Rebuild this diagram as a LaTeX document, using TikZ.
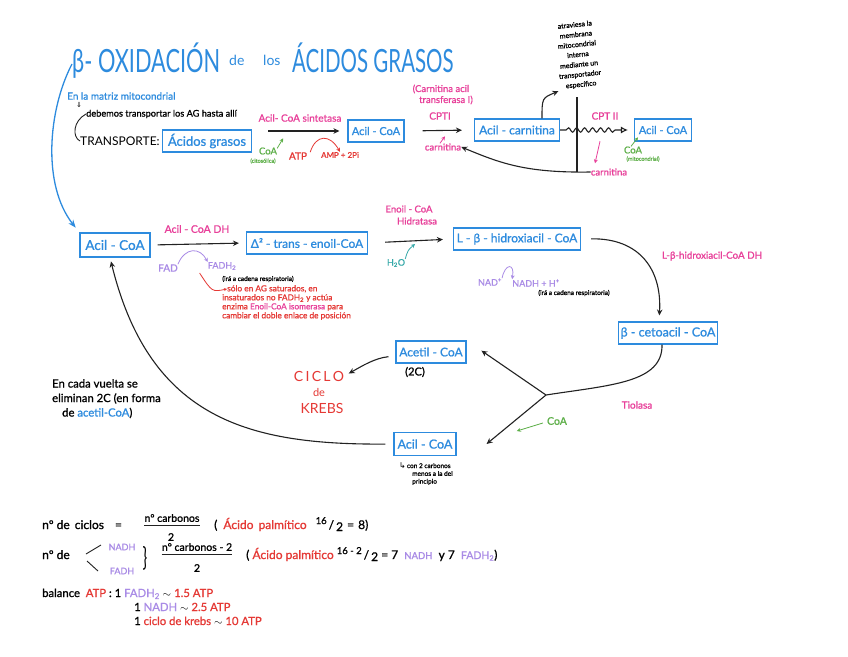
\documentclass[tikz,border=0pt]{standalone}
\usepackage{fontspec}
\setmainfont{Lato}[FakeBold=1.0]
\newfontfamily\titlef{Lato}
\newfontfamily\symf{DejaVu Sans}
\usetikzlibrary{arrows.meta,decorations.pathmorphing,calc}
\definecolor{bl}{HTML}{2D8BDE}
\definecolor{pk}{HTML}{E8409A}
\definecolor{rd}{HTML}{E53935}
\definecolor{gr}{HTML}{5DAF48}
\definecolor{pu}{HTML}{A98BE6}
\definecolor{tl}{HTML}{35A8A8}
\definecolor{ink}{HTML}{222222}
\newcommand\fz[2]{\fontsize{#1pt}{#2pt}\selectfont}
\begin{document}
\begin{tikzpicture}[x=1pt,y=-1pt,
  box/.style={draw=bl,line width=1.1pt,text=bl,inner sep=2pt,minimum height=22pt,font=\fz{12}{13}},
  arr/.style={-{Stealth[length=6pt,width=5.5pt]},line width=1.1pt,draw=ink},
  sarr/.style={-{Stealth[length=4pt,width=4pt]},line width=0.8pt},
  t/.style={inner sep=0pt},
]
\useasboundingbox[fill=white] (0,0) rectangle (848,656);

% title
\node[t,anchor=base west,text=bl,font=\titlef\fz{32}{36}] (tA) at (72,72) {\scalebox{0.68}[1]{β- OXIDACIÓN}};
\node[t,anchor=base west,text=bl,font=\titlef\fz{14}{16}] (tB) at (229,65) {de};
\node[t,anchor=base west,text=bl,font=\titlef\fz{14}{16}] (tC) at (263,65) {los};
\node[t,anchor=base west,text=bl,font=\titlef\fz{32}{36}] (tD) at (292,72) {\scalebox{0.64}[1]{ÁCIDOS GRASOS}};

% transport row
\node[t,anchor=west,text=bl,font=\fz{10}{11}] (matriz) at (67,96) {En la matriz mitocondrial};
\node[t,font=\symf\fz{7}{8}] (dn) at (79,105) {⇓};
\node[t,anchor=west,font=\fz{9.2}{10}] (debemos) at (86,114) {debemos transportar los AG hasta allí};
\node[t,anchor=west,font=\titlef\fz{12}{14}] (transp) at (80,141) {TRANSPORTE:};
\draw[ink,line width=0.9pt] (debemos.west) .. controls (73,121) and (72,137) .. (transp.west);

\node[box,minimum width=89pt,font=\fz{13}{14}] (acg) at (207,141) {Ácidos grasos};
\node[box,minimum width=56pt,font=\fz{11}{12}] (ac1) at (376,131) {Acil - CoA};
\node[box,minimum width=85pt] (acar) at (517,130) {Acil - carnitina};
\node[box,minimum width=57pt,font=\fz{11}{12}] (ac2) at (663,130) {Acil - CoA};

\draw[arr,shorten <=16pt,shorten >=8pt] (acg.east |- ac1.west) -- (ac1.west);
\node[t,text=pk,font=\fz{10}{11}] (sint) at (300,118) {Acil- CoA sintetasa};
\node[t,text=gr,font=\fz{9.5}{10}] (coa1) at (268,151) {CoA};
\node[t,text=gr,font=\fz{5.5}{6}] (cit) at (263,161) {(citosólica)};
\draw[gr,sarr] ($(coa1.north east)+(0,1)$) -- ($(coa1.north east)+(6,-9)$);
\node[t,text=rd,font=\fz{10}{11}] (atp) at (298,156) {ATP};
\node[t,text=rd,font=\fz{8}{9}] (amp) at (340,155) {AMP + 2Pi};
\draw[rd,sarr] ($(atp.north east)+(3,0)$) .. controls (316,134) and (330,134) .. (amp.north);

\node[t,text=pk,font=\fz{10}{11}] (cpt1) at (440,116) {CPTI};
\node[t,text=pk,font=\fz{9.5}{11}] (cpt1n) at (441,89) {(Carnitina acil};
\node[t,text=pk,font=\fz{9.5}{11}] (cpt1m) at (446,100) {transferasa I)};
\draw[arr,shorten <=18pt,shorten >=12pt] (ac1.east) -- (acar.west);
\node[t,text=pk,font=\fz{9.5}{10}] (carn1) at (443,147) {carnitina};
\draw[pk,sarr] ($(carn1.north)+(-3,0)$) -- ($(carn1.north)+(2,-7)$);

\node[t,font=\fz{7}{10},align=center,rotate=6] (atrav) at (578,55) {atraviesa la\\membrana\\mitocondrial\\interna\\mediante un\\transportador\\específico};
\draw[arr,shorten >=2pt] ([xshift=25pt]acar.north) .. controls (542,98) .. (atrav.south west);

\coordinate (m1) at (577,97);
\coordinate (m2) at (577,172);
\draw[ink,line width=1.1pt] (m1) -- (m2);
\draw[ink,line width=1.1pt,decorate,decoration={snake,amplitude=2.2pt,segment length=8pt,pre length=6pt,post length=12pt},-{Latex[open,length=7pt,width=7pt]}] (acar.east) -- ([xshift=-6pt]ac2.west);
\node[t,text=pk,font=\fz{10}{11}] (cpt2) at (605,116) {CPT II};
\node[t,text=pk,font=\fz{9.5}{10}] (carn2) at (609,172) {carnitina};
\draw[pk,sarr] ($(carn2.north)+(-9,-27)$) -- ($(carn2.north)+(-14,-5)$);
\node[t,text=gr,font=\fz{9.5}{10}] (coa2) at (633,150) {CoA};
\node[t,text=gr,font=\fz{5.5}{6}] (mit) at (643,159) {(mitocondrial)};
\draw[gr,sarr] ($(coa2.north)+(-2,0)$) -- ($(coa2.north)+(5,-9)$);
\draw[arr] (carn2.west) .. controls (525,173) and (500,163) .. (carn1.east);

% beta-oxidation cycle
\node[box,minimum width=70pt,minimum height=24pt,font=\fz{13.5}{14}] (ac3) at (115,245) {Acil - CoA};
\node[box,minimum width=121pt] (enoil) at (307,243) {Δ² - trans - enoil-CoA};
\node[box,minimum width=127pt] (hidrox) at (517,239) {L - β - hidroxiacil - CoA};
\node[box,minimum width=98pt,font=\fz{12.5}{13}] (ceto) at (668,333) {β - cetoacil - CoA};
\node[box,minimum width=70pt] (acet) at (431,352) {Acetil - CoA};
\node[box,minimum width=62pt,minimum height=23pt,font=\fz{12.5}{13}] (ac4) at (425,444) {Acil - CoA};

\coordinate (ts) at (72,64);
\draw[bl,line width=1.3pt,-{Stealth[length=8pt,width=6pt]},shorten >=6pt] (ts) .. controls (48,110) and (42,185) .. (ac3.north west);

\draw[arr,shorten <=7pt,shorten >=7pt] (ac3.east) -- (enoil.west);
\node[t,text=pk,font=\fz{10.5}{11}] (acdh) at (197,229) {Acil - CoA DH};
\node[t,text=pu,font=\fz{10}{11}] (fad) at (168,268) {FAD};
\node[t,text=pu,font=\fz{9}{10}] (fadh) at (222,266) {FADH\textsubscript{2}};
\draw[pu,sarr] (fad.north east) .. controls (185,247) and (200,247) .. (fadh.north west);
\node[t,font=\fz{6.5}{8}] (cad1) at (258,279) {(irá a cadena respiratoria)};
\node[t,text=rd,font=\fz{8.3}{9}, align=left,anchor=north west] (nota) at (222,285) {\hspace{5pt}sólo en AG saturados, en\\insaturados no FADH\textsubscript{2} y actúa\\enzima \textcolor{pk}{Enoil-CoA isomerasa} para\\cambiar el doble enlace de posición};
\draw[rd,line width=0.8pt,-{Stealth[length=3pt,width=3pt]}] ($(fadh.south west)+(-8,3)$) .. controls (212,292) .. ($(nota.north west)+(5,4)$);

\draw[arr,shorten <=17pt,shorten >=10pt] (enoil.east) -- (hidrox.west);
\node[t,text=pk,font=\fz{9.5}{12}] (hidrat) at (409,209) {Enoil - CoA};
\node[t,text=pk,font=\fz{9.5}{12}] (hidrat2) at (417,221) {Hidratasa};
\node[t,text=tl,font=\fz{9}{10}] (h2o) at (396,263) {H\textsubscript{2}O};
\draw[tl,sarr] (h2o.north east) .. controls (408,250) .. (415,244);

\draw[arr,shorten <=10pt,shorten >=6pt] (hidrox.east) .. controls (640,238) and (662,270) .. ([xshift=-9pt]ceto.north);
\node[t,text=pk,font=\fz{9.8}{10}] (lbdh) at (712,256) {L-β-hidroxiacil-CoA DH};
\node[t,text=pu,font=\fz{9}{10}] (nad) at (490,282) {NAD\textsuperscript{+}};
\node[t,text=pu,font=\fz{9}{10}] (nadh) at (536,283) {NADH + H\textsuperscript{+}};
\draw[pu,sarr] (nad.north east) .. controls (505,263) and (515,263) .. (nadh.north west);
\node[t,font=\fz{6.5}{8}] (cad2) at (574,293) {(irá a cadena respiratoria)};

\coordinate (J) at (546,395);
\draw[ink,line width=1.1pt] ([xshift=-6pt]ceto.south) .. controls (663,383) and (610,385) .. (J);
\draw[arr,shorten >=18pt] (J) -- (acet.north east);
\draw[arr] (J) -- ([xshift=30pt]ac4.east);
\node[t,text=pk,font=\fz{10}{11}] (tiol) at (637,405) {Tiolasa};
\node[t,text=gr,font=\fz{10.5}{11}] (coa3) at (557,421) {CoA};
\draw[gr,sarr] ($(coa3.west)+(-4,2)$) -- ($(coa3.west)+(-30,10)$);

\node[t,font=\fz{11}{12}] (twoc) at (415,372) {(2C)};
\node[t,text=rd,font=\titlef\fz{14}{16}] (ciclo) at (319,376) {C\,I\,C\,L\,O};
\node[t,text=rd,font=\titlef\fz{11}{12}] (de) at (319,392) {de};
\node[t,text=rd,font=\titlef\fz{14}{16}] (krebs) at (322,408) {KREBS};
\draw[arr,shorten <=7pt,shorten >=5pt] ([yshift=-4pt]acet.west) .. controls (375,358) and (362,366) .. (ciclo.east);

\node[t,font=\fz{6.5}{7.8},align=left,anchor=north west] (n4) at (399,462) {{\symf\fz{8}{8}↳}\,con 2 carbonos\\\hspace{13pt}menos a la del\\\hspace{13pt}principio};

\draw[arr,shorten <=8pt,shorten >=4pt] (ac4.west) .. controls (250,445) and (150,420) .. ([xshift=-5pt]ac3.south);
\node[t,anchor=north west,align=left,font=\fz{11.3}{14.5}] (vuelta) at (52,379) {En cada vuelta se\\eliminan 2C (en forma\\\hspace{10pt}de \textcolor{bl}{acetil-CoA})};

% formulas
\node[t,anchor=base west,font=\fz{12}{13}] (nc) at (42,529) {nº de \hspace{2pt}ciclos \hspace{8pt}=};
\node[t,font=\fz{10.5}{11}] (num1) at (172,518) {nº carbonos};
\node[t,font=\fz{10.5}{11}] (den1) at (171,537) {2};
\draw[ink,line width=0.8pt] ($(num1.south west)+(0,3)$) -- ($(num1.south east)+(0,3)$);
\node[t,anchor=base west,font=\fz{12}{13}] (pal1) at (214,529) {(\hspace{6pt}\textcolor{rd}{Ácido \hspace{2pt}palmítico}\hspace{9pt}\raisebox{5pt}{\fz{9.5}{10}16}\,/\,\raisebox{-2pt}{2} \hspace{1pt}= \hspace{1pt}8)};

\node[t,anchor=base west,font=\fz{12}{13}] (nde) at (42,559) {nº de};
\draw[ink,line width=0.9pt] (86,554) -- (101,545);
\draw[ink,line width=0.9pt] (87,561) -- (98,571);
\node[t,text=pu,font=\fz{9}{10}] (nadhb) at (122,547) {NADH};
\node[t,text=pu,font=\fz{9}{10}] (fadhb) at (122,571) {FADH};
\node[t,font=\titlef\fz{26}{28}] (rb) at (145,558) {\scalebox{0.6}[1]{\}}};
\node[t,font=\fz{10.5}{11}] (num2) at (197,547) {nº carbonos - 2};
\node[t,font=\fz{10.5}{11}] (den2) at (197,568) {2};
\draw[ink,line width=0.8pt] ($(num2.south west)+(0,3)$) -- ($(num2.south east)+(0,3)$);
\node[t,anchor=base west,font=\fz{12}{13}] (pal2) at (246,559) {( \textcolor{rd}{Ácido palmítico} \raisebox{5pt}{\fz{9.5}{10}16 - 2}\,/\,\raisebox{-2pt}{2} = 7 \ \textcolor{pu}{\fz{9.5}{10}NADH} \ y 7 \ \textcolor{pu}{\fz{10.5}{11}FADH\textsubscript{2}})};

\node[t,anchor=base west,font=\fz{11.3}{12}] (bal) at (42,597) {balance \ \textcolor{rd}{ATP} : 1 \textcolor{pu}{FADH\textsubscript{2}} $\sim$ \textcolor{rd}{1.5 ATP}};
\node[t,anchor=base west,font=\fz{11.3}{12}] (bal2) at (134,611) {1 \textcolor{pu}{NADH} $\sim$ \textcolor{rd}{2.5 ATP}};
\node[t,anchor=base west,font=\fz{11.3}{12}] (bal3) at (134,625) {1 \textcolor{rd}{ciclo de krebs} $\sim$ \textcolor{rd}{10 ATP}};
\end{tikzpicture}
\end{document}
